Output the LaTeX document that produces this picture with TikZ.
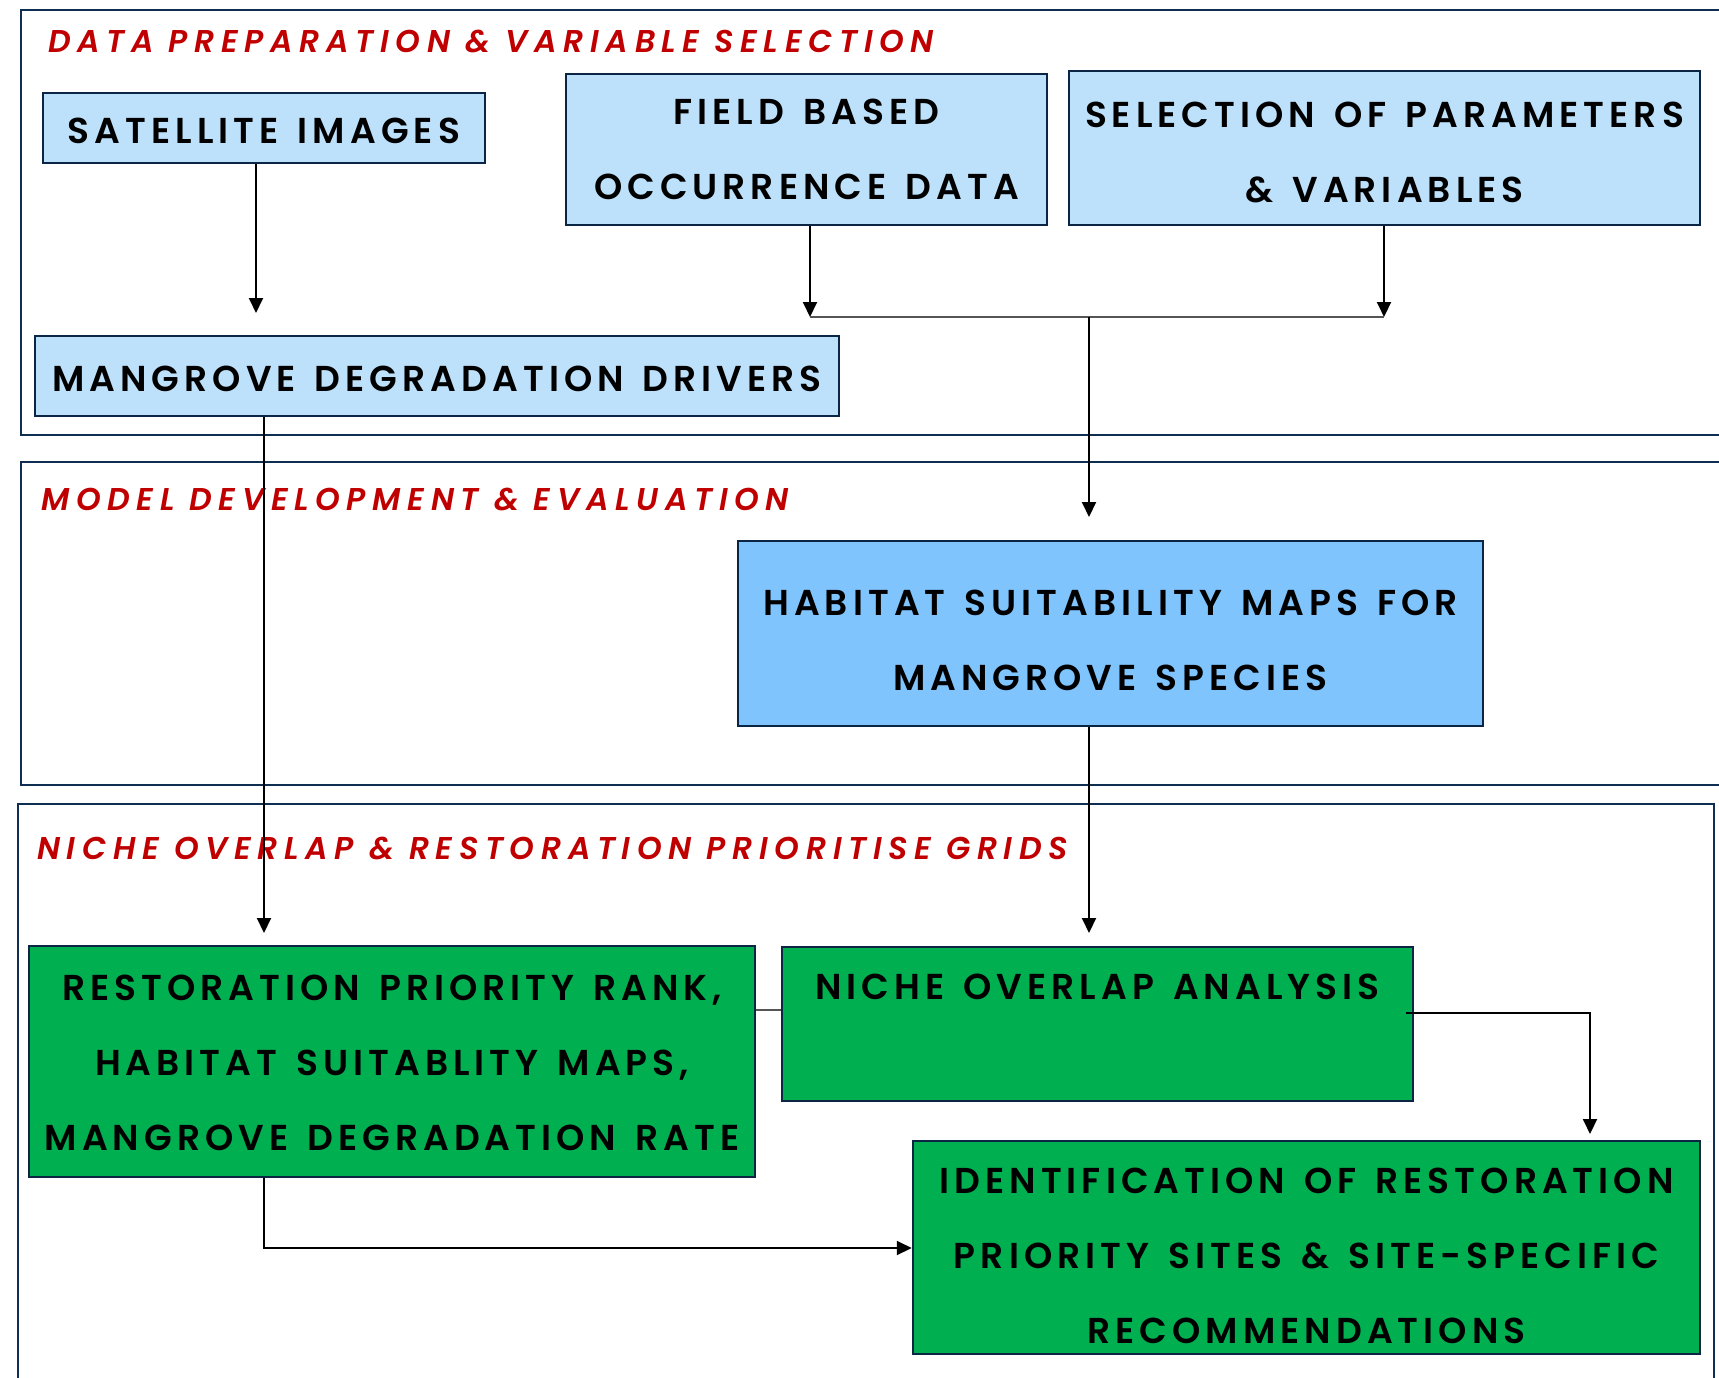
\documentclass[tikz,border=0pt]{standalone}
\usepackage{fontspec}
\setmainfont{Poppins}
\newfontfamily\boxfont{Poppins SemiBold}[LetterSpace=14, WordSpace=1.4]
\newfontfamily\titlefont{Poppins SemiBold Italic}[LetterSpace=21]
\usetikzlibrary{arrows.meta}
\definecolor{framecol}{HTML}{0F2F52}
\definecolor{boxline}{HTML}{0B2545}
\definecolor{lightblue}{HTML}{BDE1FB}
\definecolor{midblue}{HTML}{80C4FE}
\definecolor{boxgreen}{HTML}{00AF50}
\definecolor{titlered}{HTML}{C00000}
\definecolor{linkgray}{HTML}{555555}
\tikzset{
  frame/.style={draw=framecol, line width=2.5pt},
  sectitle/.style={text=titlered, font=\titlefont\fontsize{31.5}{31.5}\selectfont, inner sep=0pt, anchor=base west},
  boxbase/.style={draw=boxline, line width=2.5pt, align=center, inner sep=0pt,
    font=\boxfont\fontsize{36}{75}\selectfont, text=black},
  bluebox/.style={boxbase, fill=lightblue},
  habbox/.style={boxbase, fill=midblue},
  greenbox/.style={boxbase, fill=boxgreen},
  arr/.style={draw=black, line width=2pt, -{Triangle[length=15pt,width=14pt]}},
  link/.style={draw=linkgray, line width=1.5pt}
}
\begin{document}
\begin{tikzpicture}[x=1pt,y=-1pt]
\clip (0,0) rectangle (1719,1378);
\fill[white] (0,0) rectangle (1719,1378);

% section frames
\draw[frame] (21,10) rectangle (1745,435);
\draw[frame] (21,462) rectangle (1745,785);
\draw[frame] (18,804) rectangle (1714,1400);

% section titles
\node[sectitle] (s1) at (48,53) {DATA PREPARATION \& VARIABLE SELECTION};
\node[sectitle] (s2) at (41,510) {MODEL DEVELOPMENT \& EVALUATION};
\node[sectitle] (s3) at (37,859) {NICHE OVERLAP \& RESTORATION PRIORITISE GRIDS};

% boxes (text height/depth fix the last baseline inside each box)
\node[bluebox, minimum width=442pt, minimum height=70pt, text height=30pt, text depth=0pt] (sat) at (264,128) {SATELLITE IMAGES};
\node[bluebox, minimum width=481pt, minimum height=151pt, text height=99pt, text depth=0pt] (field) at (806.5,149.5) {FIELD BASED\\OCCURRENCE DATA};
\node[bluebox, minimum width=631pt, minimum height=154pt, text height=108pt, text depth=0pt] (sel) at (1384.5,148) {SELECTION OF PARAMETERS\\\& VARIABLES};
\node[bluebox, minimum width=804pt, minimum height=80pt, text height=30pt, text depth=0pt] (mdd) at (437,376) {MANGROVE DEGRADATION DRIVERS};
\node[habbox, minimum width=745pt, minimum height=185pt, text height=113pt, text depth=0pt] (hab) at (1110.5,633.5) {HABITAT SUITABILITY MAPS FOR\\MANGROVE SPECIES};
\node[greenbox, minimum width=726pt, minimum height=231pt, text height=177pt, text depth=0pt] (rest) at (392,1061.5) {RESTORATION PRIORITY RANK,\\HABITAT SUITABLITY MAPS,\\MANGROVE DEGRADATION RATE};
\node[greenbox, minimum width=631pt, minimum height=154pt, text height=0pt, text depth=50pt] (niche) at (1097.5,1024) {NICHE OVERLAP ANALYSIS};
\node[greenbox, minimum width=787pt, minimum height=213pt, text height=191pt, text depth=0pt] (ident) at (1306.5,1247.5) {IDENTIFICATION OF RESTORATION\\PRIORITY SITES \& SITE-SPECIFIC\\RECOMMENDATIONS};

% connector points
\coordinate (t1) at (256,313);
\coordinate (t2) at (810,317);
\coordinate (t3) at (1384,317);
\coordinate (j1) at (1089,317);
\coordinate (t4) at (1089,517);
\coordinate (t5) at (264,933);
\coordinate (t6) at (1089,933);
\coordinate (t8) at (1590,1134);

% connectors
\draw[arr] (sat.south -| t1) -- (t1);
\draw[arr] (field.south -| t2) -- (t2);
\draw[arr] (sel.south -| t3) -- (t3);
\draw[link] (t2) -- (t3);
\draw[arr] (j1) -- (t4);
\draw[arr] (mdd.south -| t5) -- (t5);
\draw[arr] (hab.south -| t6) -- (t6);
\draw[link] (rest.east |- 0,1010) -- (niche.west |- 0,1010);
\draw[arr] ([xshift=-8pt]niche.east |- 0,1013) -| (t8);
\draw[arr] (rest.south -| t5) |- (ident.west |- 0,1248);
\end{tikzpicture}
\end{document}
